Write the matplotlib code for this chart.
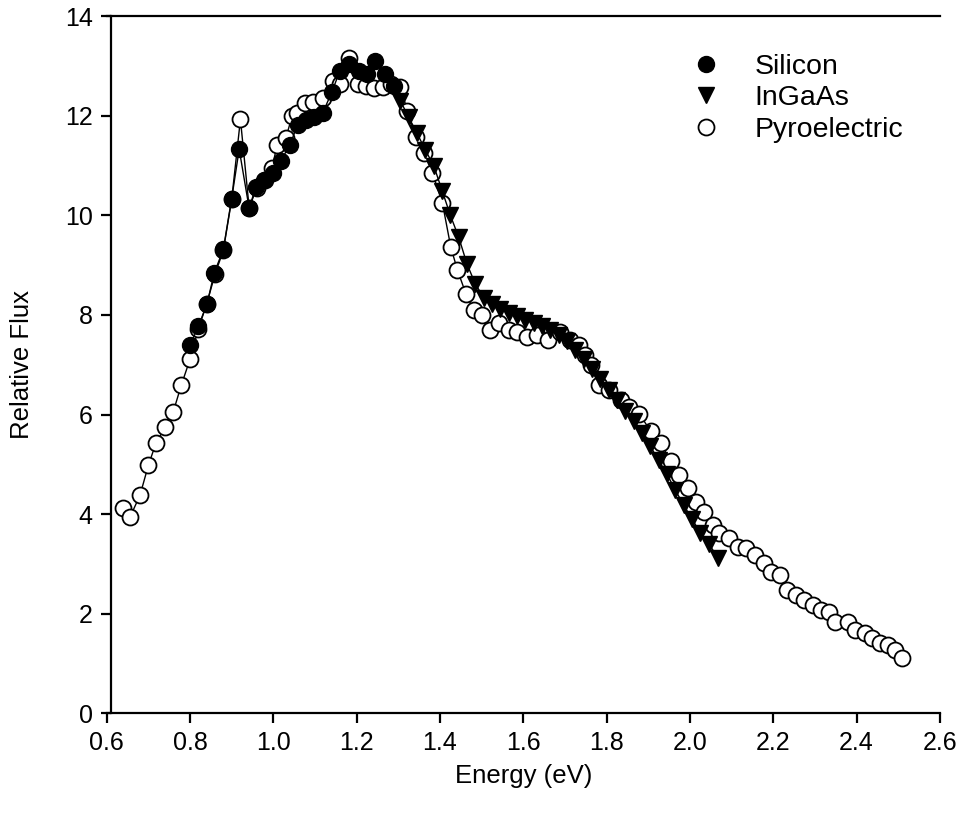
import matplotlib.pyplot as plt
from matplotlib.lines import Line2D

plt.rcParams['font.family'] = ['Liberation Sans', 'DejaVu Sans']

# Silicon detector
si_energy = [0.800, 0.820, 0.841, 0.858, 0.880, 0.900, 0.918, 0.942, 0.958, 0.978,
             0.998, 1.018, 1.040, 1.058, 1.078, 1.098, 1.118, 1.140, 1.160, 1.182,
             1.205, 1.225, 1.245, 1.267, 1.289]
si_flux = [7.39, 7.77, 8.23, 8.84, 9.32, 10.34, 11.33, 10.14, 10.58, 10.72,
           10.86, 11.10, 11.42, 11.82, 11.91, 11.98, 12.05, 12.47, 12.91, 13.05,
           12.91, 12.85, 13.11, 12.85, 12.61]

# InGaAs detector
ingaas_energy = [1.305, 1.325, 1.345, 1.365, 1.385, 1.405, 1.425, 1.445, 1.465, 1.485,
                 1.505, 1.525, 1.545, 1.565, 1.585, 1.605, 1.625, 1.645, 1.665, 1.685,
                 1.705, 1.725, 1.745, 1.765, 1.785, 1.805, 1.825, 1.845, 1.865, 1.885,
                 1.905, 1.925, 1.945, 1.965, 1.985, 2.005, 2.025, 2.045, 2.068]
ingaas_flux = [12.30, 11.97, 11.65, 11.31, 11.00, 10.50, 10.00, 9.56, 9.02, 8.62,
               8.35, 8.22, 8.12, 8.03, 7.97, 7.90, 7.84, 7.78, 7.70, 7.60,
               7.48, 7.30, 7.12, 6.92, 6.72, 6.50, 6.30, 6.08, 5.86, 5.62,
               5.36, 5.08, 4.80, 4.48, 4.18, 3.90, 3.62, 3.40, 3.12]

# Pyroelectric detector
pyro_energy = [0.640, 0.656, 0.680, 0.700, 0.718, 0.740, 0.760, 0.779, 0.800, 0.820,
               0.840, 0.860, 0.880, 0.900, 0.921, 0.942, 0.960, 0.980, 0.997, 1.009,
               1.030, 1.045, 1.057, 1.077, 1.096, 1.118, 1.144, 1.161, 1.181, 1.202,
               1.222, 1.241, 1.263, 1.283, 1.305, 1.322, 1.342, 1.361, 1.382, 1.406,
               1.426, 1.442, 1.462, 1.481, 1.500, 1.520, 1.541, 1.565, 1.586, 1.610,
               1.634, 1.660, 1.689, 1.713, 1.733, 1.747, 1.762, 1.781, 1.805, 1.834,
               1.853, 1.878, 1.906, 1.930, 1.954, 1.974, 1.995, 2.014, 2.034, 2.055,
               2.070, 2.094, 2.116, 2.135, 2.155, 2.178, 2.195, 2.215, 2.232, 2.255,
               2.274, 2.296, 2.315, 2.334, 2.347, 2.380, 2.396, 2.419, 2.436, 2.455,
               2.476, 2.492, 2.508]
pyro_flux = [4.12, 3.94, 4.38, 4.98, 5.42, 5.74, 6.06, 6.59, 7.11, 7.72,
             8.22, 8.82, 9.30, 10.32, 11.93, 10.15, 10.55, 10.72, 10.96, 11.41,
             11.55, 12.00, 12.05, 12.25, 12.27, 12.35, 12.71, 12.65, 13.17, 12.65,
             12.61, 12.55, 12.57, 12.65, 12.57, 12.10, 11.57, 11.25, 10.85, 10.24,
             9.36, 8.90, 8.43, 8.10, 7.99, 7.69, 7.83, 7.69, 7.65, 7.55,
             7.59, 7.49, 7.65, 7.49, 7.39, 7.20, 6.99, 6.59, 6.49, 6.29,
             6.15, 6.02, 5.66, 5.42, 5.06, 4.78, 4.52, 4.24, 4.04, 3.78,
             3.61, 3.51, 3.33, 3.31, 3.17, 3.01, 2.83, 2.77, 2.47, 2.37,
             2.27, 2.17, 2.07, 2.03, 1.83, 1.83, 1.67, 1.61, 1.51, 1.41,
             1.37, 1.27, 1.10]

fig = plt.figure(figsize=(9.7, 8.16), dpi=100)
ax = fig.add_axes([0.110, 0.126, 0.859, 0.854])

ax.plot(pyro_energy, pyro_flux, color='black', linewidth=1.0, marker='o',
        markersize=11.5, markerfacecolor='white', markeredgecolor='black',
        markeredgewidth=1.3, zorder=2)
ax.plot(si_energy, si_flux, color='black', linewidth=1.0, marker='o',
        markersize=11.5, markerfacecolor='black', markeredgecolor='black', zorder=3)
ax.plot(ingaas_energy, ingaas_flux, color='black', linewidth=1.0, marker='v',
        markersize=12, markerfacecolor='black', markeredgecolor='black', zorder=4)

ax.set_xlim(0.6, 2.6)
ax.set_ylim(0, 14)
ax.set_xticks([0.6, 0.8, 1.0, 1.2, 1.4, 1.6, 1.8, 2.0, 2.2, 2.4, 2.6])
ax.set_xticklabels(['0.6', '0.8', '1.0', '1.2', '1.4', '1.6', '1.8', '2.0', '2.2', '2.4', '2.6'])
ax.set_yticks(range(0, 15, 2))

ax.spines['right'].set_visible(False)
for side in ['left', 'bottom', 'top']:
    ax.spines[side].set_linewidth(1.6)
ax.spines['left'].set_position(('data', 0.61))
ax.tick_params(direction='out', length=7, width=1.6, labelsize=18, pad=6)
ax.tick_params(top=False, right=False)

ax.set_xlabel('Energy (eV)', fontsize=18.5, labelpad=6)
ax.set_ylabel('Relative Flux', fontsize=18.5, labelpad=22)

handles = [
    Line2D([], [], linestyle='none', marker='o', markersize=11.5,
           markerfacecolor='black', markeredgecolor='black'),
    Line2D([], [], linestyle='none', marker='v', markersize=12,
           markerfacecolor='black', markeredgecolor='black'),
    Line2D([], [], linestyle='none', marker='o', markersize=11.5,
           markerfacecolor='white', markeredgecolor='black', markeredgewidth=1.3),
]
ax.legend(handles, ['Silicon', 'InGaAs', 'Pyroelectric'], loc='upper left',
          bbox_to_anchor=(0.685, 0.967), frameon=False, fontsize=20.5,
          handlelength=1.0, handletextpad=1.2, labelspacing=0.2, borderpad=0)

plt.savefig('out.png', dpi=100)
